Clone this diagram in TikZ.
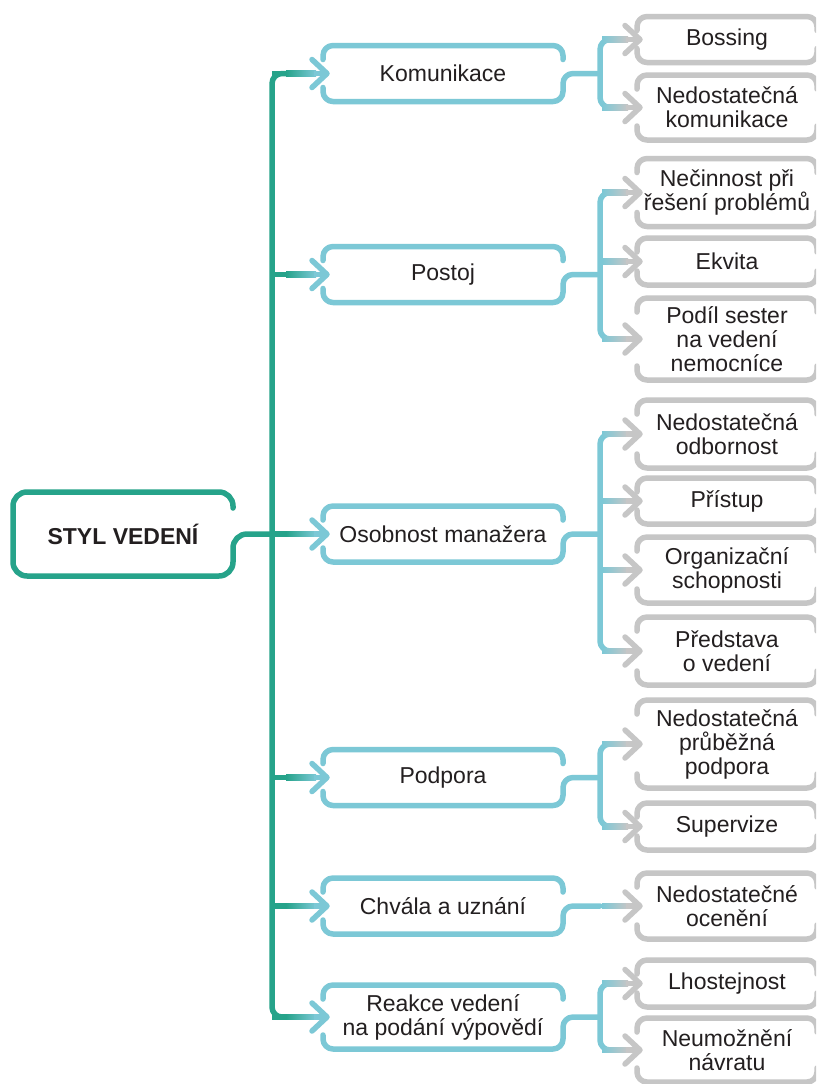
\documentclass[tikz,border=0pt]{standalone}
\usepackage{fontspec}
\setmainfont{Liberation Sans}
\usetikzlibrary{calc}

\definecolor{trunkteal}{HTML}{26A38A}
\definecolor{branchblue}{HTML}{7CC8D6}
\definecolor{leafgrey}{HTML}{C6C6C6}
\definecolor{inkgrey}{HTML}{231F20}

\tikzset{
  stroke/.style={line width=2.75pt, line cap=round, line join=round},
  boxtext/.style={inner sep=0pt, outer sep=0pt, align=center, text=inkgrey,
    font=\fontsize{11.5}{12}\selectfont},
  rootbox/.style={boxtext, minimum width=110pt, minimum height=42pt,
    font=\fontsize{11.5}{12}\selectfont\bfseries},
  midbox/.style={boxtext, minimum width=120pt, minimum height=28pt},
  leafbox/.style={boxtext, minimum width=90pt, minimum height=#1},
}

% upper and lower halves of an open frame (gaps left for the arrows)
\newcommand\topcap[2]{%
  \draw[stroke,#2,rounded corners=5pt] ($(#1.north west)+(0,14)$) -- (#1.north west)
    -- (#1.north east) -- ($(#1.north east)+(0,14)$);}
\newcommand\lowcap[2]{%
  \draw[stroke,#2,rounded corners=5pt] ($(#1.south west)+(0,-14)$) -- (#1.south west)
    -- (#1.south east) -- ($(#1.south east)+(0,-14)$);}
% lower half of a middle frame, running on into its outgoing line
\newcommand\lowout[2]{%
  \draw[stroke,branchblue,rounded corners=5pt] ($(#1.south west)+(0,-14)$) -- (#1.south west)
    -- (#1.south east) -- (#1.east) -- (#2 |- #1.east);}
% trunk -> middle frame, teal fading into blue, ending in a chevron
\newcommand\midjoin[2]{%
  \draw[stroke,trunkteal,line cap=butt] (#1 |- #2.west) -- ($(#1 |- #2.west)+(16,0)$);
  \shade[left color=trunkteal,right color=branchblue]
    ($(#1 |- #2.west)+(14,-2.75)$) rectangle ($(#1 |- #2.west)+(44,2.75)$);
  \draw[stroke,branchblue,line cap=butt] ($(#1 |- #2.west)+(42,0)$) -- ($(#2.west)+(4,0)$);
  \draw[stroke,branchblue] ($(#2.west)+(-11,-14)$) -- ($(#2.west)+(4,0)$) -- ($(#2.west)+(-11,14)$);}
% branch -> leaf frame, blue fading into grey, ending in a chevron
\newcommand\leafjoin[2]{%
  \shade[left color=branchblue,right color=leafgrey]
    ($(#1 |- #2.west)+(2,-2.75)$) rectangle ($(#1 |- #2.west)+(28,2.75)$);
  \draw[stroke,leafgrey,line cap=butt] ($(#1 |- #2.west)+(26,0)$) -- ($(#2.west)+(3,0)$);
  \draw[stroke,leafgrey] ($(#2.west)+(-12,-14)$) -- ($(#2.west)+(3,0)$) -- ($(#2.west)+(-12,14)$);}
% vertical branch line between the first and last leaf of a group
\newcommand\branchline[3]{%
  \draw[stroke,branchblue,rounded corners=5pt,line cap=butt]
    ($(#1 |- #2.west)+(6,0)$) -- (#1 |- #2.west) -- (#1 |- #3.west) -- ($(#1 |- #3.west)+(6,0)$);}

\begin{document}
\begin{tikzpicture}[x=0.5pt,y=-0.5pt]
\useasboundingbox (0,0) rectangle (816,1084);
\fill[white] (0,0) rectangle (816,1084);
\clip (0,0) rectangle (816,1084);

\coordinate (tk) at (272,0);
\coordinate (br) at (600,0);

% root
\node[rootbox] (root) at (123,534) {STYL VEDENÍ};

% middle level
\node[midbox] (m1) at (443,73.5) {Komunikace};
\node[midbox] (m2) at (443,274.5) {Postoj};
\node[midbox] (m3) at (443,534) {Osobnost manažera};
\node[midbox] (m4) at (443,777.5) {Podpora};
\node[midbox] (m5) at (443,906) {Chvála a uznání};
\node[midbox, minimum height=32pt] (m6) at (443,1017) {Reakce vedení\\na podání výpovědí};

% leaves
\node[leafbox=23pt]   (l1)  at (727,39.5)  {Bossing};
\node[leafbox=32.5pt] (l2)  at (727,107.5) {Nedostatečná\\komunikace};
\node[leafbox=34pt]   (l3)  at (727,192.5) {Nečinnost při\\řešení problémů};
\node[leafbox=23.5pt] (l4)  at (727,261.5) {Ekvita};
\node[leafbox=41pt]   (l5)  at (727,339)   {Podíl sester\\na vedení\\nemocníce};
\node[leafbox=34pt]   (l6)  at (727,434)   {Nedostatečná\\odbornost};
\node[leafbox=23pt]   (l7)  at (727,501)   {Přístup};
\node[leafbox=33pt]   (l8)  at (727,570)   {Organizační\\schopnosti};
\node[leafbox=34pt]   (l9)  at (727,651)   {Představa\\o vedení};
\node[leafbox=44pt]   (l10) at (727,744)   {Nedostatečná\\průběžná\\podpora};
\node[leafbox=23.5pt] (l11) at (727,826.5) {Supervize};
\node[leafbox=33pt]   (l12) at (727,906)   {Nedostatečné\\ocenění};
\node[leafbox=23.5pt] (l13) at (727,983.5) {Lhostejnost};
\node[leafbox=32pt]   (l14) at (727,1050)  {Neumožnění\\návratu};

% root frame and its outgoing line
\draw[stroke,trunkteal,rounded corners=7pt] ($(root.north east)+(0,16)$) -- (root.north east)
  -- (root.north west) -- (root.south west) -- (root.south east) -- (root.east) -- (tk |- root.east);

% trunk
\draw[stroke,trunkteal,rounded corners=5pt,line cap=butt]
  ($(tk |- m1.west)+(16,0)$) -- (tk |- m1.west) -- (tk |- m6.west) -- ($(tk |- m6.west)+(16,0)$);
\foreach \m in {m1,m2,m3,m4,m5,m6}{\midjoin{tk}{\m}}

% middle frames
\foreach \m in {m1,m2,m3,m4,m5,m6}{\topcap{\m}{branchblue}\lowout{\m}{br}}

% branches
\branchline{br}{l1}{l2}
\branchline{br}{l3}{l5}
\branchline{br}{l6}{l9}
\branchline{br}{l10}{l11}
\branchline{br}{l13}{l14}
\foreach \l in {l1,l2,l3,l4,l5,l6,l7,l8,l9,l10,l11,l12,l13,l14}{\leafjoin{br}{\l}}

% leaf frames
\foreach \l in {l1,l2,l3,l4,l5,l6,l7,l8,l9,l10,l11,l12,l13,l14}{\topcap{\l}{leafgrey}\lowcap{\l}{leafgrey}}
\end{tikzpicture}
\end{document}
